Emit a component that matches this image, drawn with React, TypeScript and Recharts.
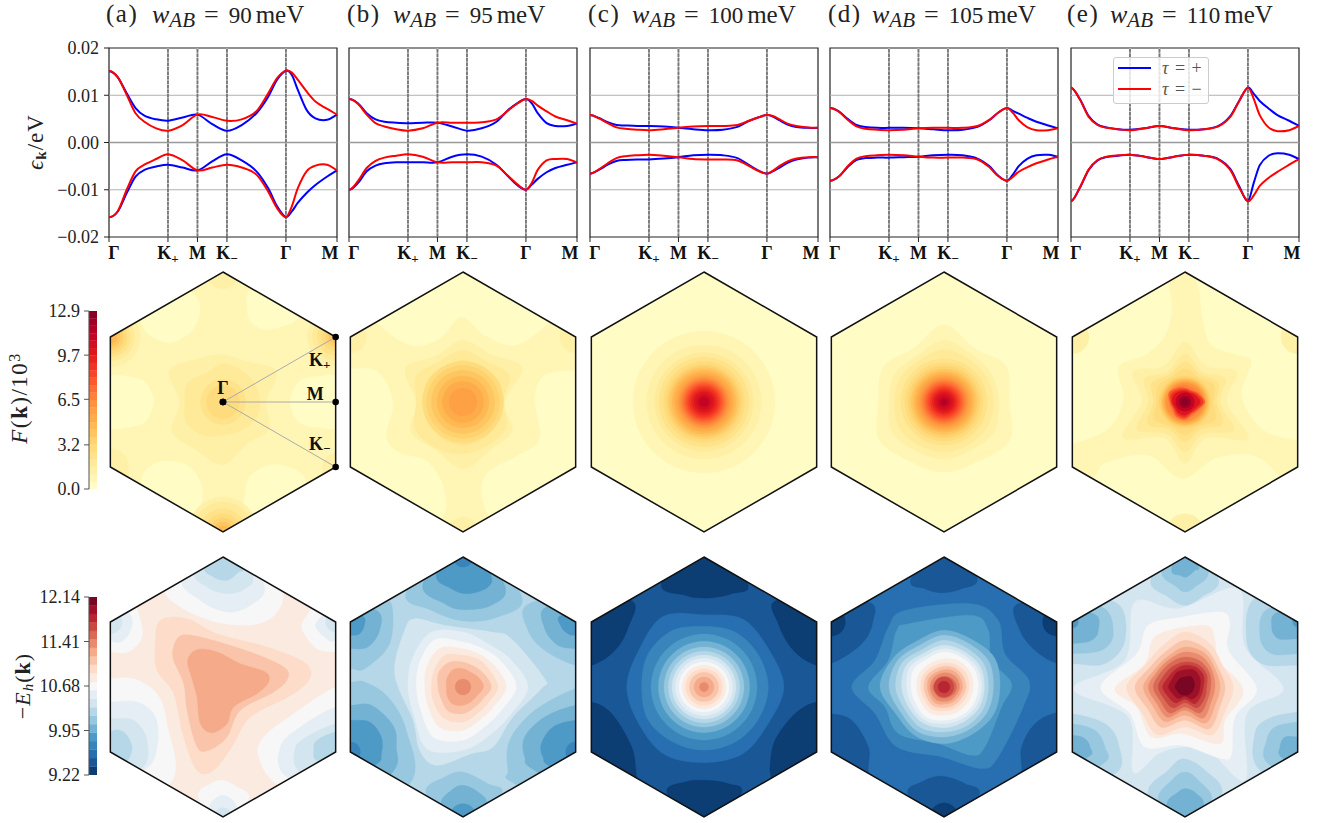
import React from 'react';
import { LineChart, Line, XAxis, YAxis, ReferenceLine, ReferenceArea, ScatterChart, Scatter, BarChart, Bar } from 'recharts';

// ---------- band structure data ----------
const pathX = [0, 0.15, 0.3, 0.45, 0.6, 0.8, 1, 1.25, 1.5, 1.75, 2, 2.25, 2.5, 2.7, 2.85, 3, 3.1, 3.2, 3.35, 3.5, 3.7, 3.866];
const pathTicks = [0, 1, 1.5, 2, 3, 3.866];
const pathLabels = ['Γ', 'K+', 'M', 'K−', 'Γ', 'M'];
const energyTicks = [-0.02, -0.01, 0, 0.01, 0.02];
const energyLabels = ['−0.02', '−0.01', '0.00', '0.01', '0.02'];

const aUpPlus = [.0151, .0138, .0104, .0073, .0057, .0049, .0046, .0053, .0059, .0039, .0025, .0037, .0062, .0097, .0133, .0152, .0143, .0112, .0069, .0051, .0048, .0059];
const aUpMinus = [.0152, .0138, .0101, .0062, .0044, .003, .0025, .0037, .0059, .0054, .0046, .0049, .0066, .0104, .0136, .0152, .0148, .0133, .0108, .0087, .0071, .0059];
const aLowPlus = [-.0158, -.0146, -.0107, -.0072, -.0058, -.0051, -.0047, -.0053, -.0059, -.004, -.0025, -.0038, -.0061, -.0097, -.0135, -.0158, -.0146, -.0128, -.0107, -.009, -.0072, -.0059];
const aLowMinus = [-.0158, -.0145, -.01, -.0061, -.0047, -.0035, -.0025, -.0038, -.0059, -.0053, -.0047, -.0053, -.0068, -.0104, -.0139, -.0158, -.0135, -.0097, -.0061, -.0049, -.0047, -.0059];

const bUpPlus = [.0092, .0083, .0062, .0049, .0044, .0042, .0041, .0042, .0042, .0034, .0025, .003, .0044, .0069, .0083, .0092, .0083, .0062, .0041, .0035, .0035, .004];
const bUpMinus = [.0092, .0082, .0059, .0041, .0034, .0028, .0025, .003, .0042, .0042, .0042, .0043, .0049, .0068, .0082, .0092, .0088, .0078, .0066, .0055, .0047, .004];
const bLowPlus = [-.01, -.0086, -.0061, -.0049, -.0044, -.0042, -.0042, -.0042, -.0042, -.003, -.0025, -.003, -.0047, -.0072, -.009, -.01, -.0089, -.0077, -.0063, -.0054, -.0047, -.0042];
const bLowMinus = [-.01, -.0082, -.0054, -.0039, -.0032, -.0028, -.0025, -.003, -.0042, -.0042, -.0042, -.0042, -.0049, -.0071, -.0088, -.01, -.0085, -.0058, -.0038, -.0035, -.0035, -.0042];

const cUpPlus = [.0058, .0052, .0043, .0037, .0036, .0035, .0035, .0034, .0031, .0028, .0026, .0027, .0033, .0046, .0053, .0058, .0055, .0048, .0038, .0033, .0031, .0031];
const cUpMinus = [.0058, .0051, .0041, .0032, .0029, .0027, .0026, .0028, .0031, .0034, .0035, .0035, .0037, .0046, .0053, .0058, .0056, .005, .004, .0035, .0032, .0031];
const cLowPlus = [-.0066, -.0058, -.0047, -.0039, -.0037, -.0036, -.0036, -.0034, -.0031, -.0027, -.0026, -.0027, -.0033, -.0048, -.0059, -.0066, -.0061, -.0054, -.0043, -.0036, -.0032, -.0031];
const cLowMinus = [-.0066, -.0057, -.0044, -.0033, -.0029, -.0027, -.0026, -.0028, -.0031, -.0035, -.0036, -.0036, -.0038, -.005, -.006, -.0066, -.006, -.0051, -.004, -.0034, -.0031, -.0031];

const dUpPlus = [.0073, .0066, .005, .0037, .0033, .0031, .0031, .0031, .003, .0028, .0026, .0027, .0033, .0047, .0063, .0073, .0067, .0061, .0052, .0044, .0036, .003];
const dUpMinus = [.0073, .0065, .0048, .0034, .0029, .0027, .0026, .0027, .003, .0031, .0031, .0031, .0035, .0048, .0063, .0073, .0063, .0047, .0032, .0026, .0026, .003];
const dLowPlus = [-.0081, -.0072, -.0052, -.0037, -.0033, -.0032, -.0032, -.0031, -.003, -.0027, -.0026, -.0027, -.0034, -.005, -.007, -.0081, -.0068, -.005, -.0034, -.0027, -.0026, -.003];
const dLowMinus = [-.0081, -.0072, -.005, -.0034, -.0029, -.0027, -.0026, -.0027, -.003, -.0032, -.0032, -.0032, -.0036, -.0052, -.0071, -.0081, -.0073, -.0062, -.0052, -.0044, -.0036, -.003];

const eUpPlus = [.0116, .0092, .0056, .0038, .0032, .0028, .0027, .003, .0035, .003, .0027, .0028, .0035, .0056, .0088, .0116, .0103, .0088, .0072, .0058, .0046, .0035];
const eUpMinus = [.0116, .0091, .0054, .0037, .0031, .0028, .0026, .003, .0035, .003, .0026, .0028, .0034, .0054, .0087, .0116, .0092, .0058, .0032, .0024, .0026, .0035];
const eLowPlus = [-.0124, -.0096, -.0058, -.0038, -.0031, -.0028, -.0026, -.003, -.0035, -.003, -.0026, -.0028, -.0035, -.0056, -.0092, -.0124, -.0085, -.0048, -.0028, -.0023, -.0026, -.0035];
const eLowMinus = [-.0124, -.0095, -.0057, -.0037, -.003, -.0027, -.0026, -.003, -.0035, -.003, -.0026, -.0028, -.0036, -.0058, -.0095, -.0124, -.0112, -.0092, -.0075, -.0062, -.0047, -.0035];

// ---------- colour maps ----------
const ylOrRdAnchors = ['#ffffcc', '#ffeda0', '#fed976', '#feb24c', '#fd8d3c', '#fc4e2a', '#e31a1c', '#bd0026', '#800026'];
const rdBuAnchors = ['#053061', '#2166ac', '#4393c3', '#92c5de', '#d1e5f0', '#f7f7f7', '#fddbc7', '#f4a582', '#d6604d', '#b2182b', '#67001f'];
const hexRgb = (h: string) => [1, 3, 5].map((i) => parseInt(h.slice(i, i + 2), 16));
const paletteFrom = (anchors: string[], n: number) =>
  Array.from({ length: n }, (_, i) => {
    const t = ((i + 0.5) / n) * (anchors.length - 1);
    const k = Math.floor(t);
    const a = hexRgb(anchors[k]);
    const b = hexRgb(anchors[Math.min(k + 1, anchors.length - 1)]);
    const c = a.map((v, j) => Math.round(v + (b[j] - v) * (t - k)));
    return `rgb(${c[0]},${c[1]},${c[2]})`;
  });
const yl = paletteFrom(ylOrRdAnchors, 24);
const rb = paletteFrom(rdBuAnchors, 21);

// ---------- contour helpers ----------
// Units: 3 units = 1 px, origin at the hexagon centre, y upwards.
const N = [0, 390], NE = [338, 195], SE = [338, -195], S = [0, -390], SW = [-338, -195], NW = [-338, 195], W = [-338, 0], E = [338, 0];
const hexVerts = [N, NE, SE, S, SW, NW];
type Pt = { x: number; y: number; label?: string };
type Contour = { level: number; pts: Pt[] };
const spot = (level: number, c: number[], r: number | number[]): Contour => {
  const rr = typeof r === 'number' ? Array(12).fill(r) : r;
  return { level, pts: rr.map((v, i) => {
    const a = (i * 2 * Math.PI) / rr.length;
    return { x: c[0] + v * Math.cos(a), y: c[1] + v * Math.sin(a) };
  }) };
};
const ring = (level: number, r: number | number[]) => spot(level, [0, 0], r);
const patch = (level: number, f: number[]): Contour => {
  const pts: Pt[] = [];
  for (let i = 0; i < f.length; i += 2) pts.push({ x: f[i], y: f[i + 1] });
  return { level, pts };
};

// ---------- F(k) contours ----------
const fA = [
  spot(0, W, [130, 120, 90, 80, 80, 80, 80, 80, 80, 80, 90, 120]),
  spot(0, E, [80, 80, 80, 80, 90, 125, 137, 125, 90, 80, 80, 80]),
  spot(0, [-158, 252], [85, 100, 100, 100, 100, 100, 90, 85, 75, 75, 70, 75]),
  spot(0, [152, 280], [90, 100, 100, 100, 100, 90, 80, 80, 70, 60, 60, 75]),
  spot(0, [-148, -258], [85, 80, 80, 80, 90, 100, 100, 100, 100, 100, 100, 95]),
  spot(0, [152, -268], [100, 100, 85, 80, 80, 85, 85, 100, 100, 100, 100, 100]),
  ring(2, [130, 185, 140, 142, 150, 187, 130, 177, 165, 188, 145, 160]),
  ring(3, [110, 110, 110, 115, 100, 120, 115, 125, 115, 100, 100, 110]),
  ring(4, 68), ring(5, 50),
  spot(2, NW, 90), spot(3, NW, 72), spot(4, NW, 60), spot(5, NW, 50), spot(6, NW, 40), spot(7, NW, 30), spot(8, NW, 20),
  spot(2, NE, 85), spot(3, NE, 70), spot(4, NE, 55), spot(5, NE, 42), spot(6, NE, 30), spot(7, NE, 20),
  spot(2, S, 105), spot(3, S, 90), spot(4, S, 70), spot(5, S, 55), spot(6, S, 42), spot(7, S, 30), spot(8, S, 18),
  spot(2, N, 50), spot(2, SW, 55), spot(2, SE, 40),
];
const fB = [
  patch(0, [-250, 230, -155, 170, -70, 190, -5, 255, 65, 200, 155, 170, 250, 230, 350, 350, 0, 450, -350, 350]),
  patch(0, [-338, 100, -255, 90, -210, 0, -230, -100, -195, -150, -105, -180, -55, -270, -75, -360, -255, -390, -400, -300, -400, 100]),
  patch(0, [338, 95, 245, 80, 215, 10, 230, -110, 165, -160, 75, -210, 55, -270, 80, -345, 145, -390, 400, -300, 400, 95]),
  spot(2, NW, 48), spot(2, NE, 48), spot(2, S, 45),
  ring(2, [125, 205, 165, 185, 160, 200, 140, 180, 165, 200, 165, 170]),
  ring(3, [120, 160, 140, 155, 140, 160, 140, 165, 160, 155, 150, 150]),
  ring(4, [115, 125, 120, 125, 120, 125, 115, 120, 125, 130, 125, 120]),
  ring(5, 122), ring(6, 110), ring(7, 95), ring(8, 78), ring(9, 62), ring(10, 42),
];
const fC = [
  ring(1, 213), ring(2, 172), ring(3, 148), ring(4, 135), ring(5, 122), ring(6, 112), ring(7, 104), ring(8, 96), ring(9, 88), ring(10, 80),
  ring(11, 74), ring(12, 68), ring(13, 62), ring(14, 56), ring(15, 50), ring(16, 44), ring(17, 37), ring(18, 30), ring(19, 22), ring(20, 14),
];
const fD = [
  ring(1, [195, 215, 185, 232, 185, 210, 197, 225, 205, 210, 205, 228]),
  ring(2, [165, 165, 165, 185, 160, 170, 165, 180, 170, 172, 165, 175]),
  ring(3, [148, 148, 148, 158, 145, 150, 148, 155, 150, 150, 148, 150]),
  ring(4, 130), ring(5, 118), ring(6, 108), ring(7, 99), ring(8, 91), ring(9, 84), ring(10, 77), ring(11, 71), ring(12, 65),
  ring(13, 59), ring(14, 53), ring(15, 47), ring(16, 41), ring(17, 35), ring(18, 29), ring(19, 22), ring(20, 14), ring(21, 7),
];
const fE = [
  patch(0, [-50, 360, -40, 280, -60, 200, -120, 140, -200, 105, -185, 10, -230, -80, -340, -125, -420, -125, -420, 310, -60, 460]),
  patch(0, [45, 320, 55, 240, 80, 170, 160, 140, 200, 120, 170, 20, 230, -80, 337, -115, 420, -115, 420, 310, 45, 460]),
  patch(0, [-265, -215, -230, -180, -110, -160, -10, -230, 90, -170, 200, -160, 270, -210, 300, -300, 0, -460, -300, -300]),
  spot(2, NW, 50), spot(2, NE, 50), spot(2, S, 55),
  ring(2, [125, 180, 125, 180, 125, 180, 130, 215, 125, 185, 125, 220]),
  ring(3, [105, 140, 105, 145, 105, 140, 110, 165, 110, 150, 110, 170]),
  ring(4, [95, 115, 95, 120, 95, 115, 95, 130, 95, 120, 95, 130]),
  ring(5, [85, 100, 85, 100, 85, 95, 85, 105, 85, 100, 85, 105]),
  ring(6, 78), ring(7, 72), ring(8, 68), ring(9, 64), ring(10, 60), ring(11, 57),
  ring(12, [56, 52, 48, 50, 52, 55, 48, 48, 52, 52, 48, 50]),
  ring(14, [60, 48, 40, 42, 48, 55, 45, 42, 50, 52, 42, 45]),
  ring(16, [54, 44, 36, 38, 42, 48, 42, 38, 44, 46, 38, 42]),
  ring(18, [46, 38, 32, 33, 36, 40, 38, 34, 38, 40, 34, 36]),
  ring(20, 28), ring(22, 18), ring(23, 10),
];

// ---------- -E_h(k) contours ----------
const eA = [
  patch(10, [-173, 280, -68, 210, 52, 185, 142, 205, 180, 275, 120, 350, 0, 480, -120, 350]),
  patch(9, [-123, 330, -68, 260, 12, 225, 82, 245, 122, 310, 0, 480]),
  patch(8, [-86, 350, -48, 300, 12, 280, 67, 295, 87, 340, 0, 480]),
  patch(7, [-56, 365, -28, 330, 12, 320, 47, 345, 57, 360, 0, 480]),
  patch(10, [-338, 105, -283, 105, -243, 150, -253, 220, -273, 240, -400, 250, -400, 105]),
  patch(9, [-338, 140, -298, 140, -273, 185, -283, 225, -320, 250, -400, 200]),
  spot(8, NW, 35),
  patch(10, [339, 105, 282, 115, 237, 175, 252, 215, 282, 240, 400, 250, 400, 105]),
  patch(9, [339, 140, 307, 148, 277, 185, 307, 220, 350, 250, 420, 200]),
  spot(8, NE, 30),
  patch(10, [-338, 25, -268, 25, -198, -20, -168, -110, -158, -290, -400, -400, -400, 25]),
  patch(9, [-338, -45, -258, -45, -203, -90, -198, -180, -238, -250, -400, -300, -400, -45]),
  patch(8, [-338, -95, -268, -100, -228, -160, -245, -245, -400, -280, -400, -95]),
  patch(7, [-338, -135, -298, -135, -273, -180, -290, -225, -330, -240, -400, -200]),
  patch(10, [339, 0, 212, -80, 122, -150, 107, -210, 172, -300, 400, -400, 420, 0]),
  patch(9, [339, -60, 232, -120, 172, -180, 192, -270, 400, -350, 420, -60]),
  patch(8, [339, -110, 250, -150, 215, -190, 235, -260, 400, -350, 420, -110]),
  patch(7, [339, -135, 282, -160, 272, -190, 287, -225, 400, -260, 420, -135]),
  patch(10, [-73, -330, -38, -290, 0, -280, 42, -300, 77, -335, 0, -450]),
  patch(9, [-40, -360, 0, -325, 40, -360, 0, -430]),
  spot(8, S, 28),
  patch(12, [-188, 200, -108, 205, -18, 160, 132, 120, 242, 75, 262, 30, 212, -20, 82, -90, 32, -170, -28, -250, -78, -250, -118, -150, -148, -20, -198, 50, -203, 130]),
  patch(13, [-148, 120, -123, 155, -48, 145, 82, 105, 182, 60, 194, 25, 152, -15, 52, -70, 12, -150, -43, -190, -78, -180, -108, -70, -118, 10, -148, 80]),
  patch(14, [-106, 80, -78, 112, -18, 105, 52, 70, 127, 45, 137, 15, 102, -20, 32, -60, 12, -110, -33, -137, -68, -110, -78, -30, -93, 25]),
];
const eB = [
  patch(6, [-170, 285, -95, 230, 0, 198, 105, 210, 175, 275, 0, 480]),
  patch(5, [-120, 310, -55, 250, 0, 232, 85, 245, 125, 305, 0, 480]),
  patch(4, [-80, 340, -35, 295, 15, 280, 75, 300, 80, 345, 0, 480]),
  spot(3, N, 30),
  patch(6, [-338, 55, -295, 55, -220, 130, -215, 250, -265, 240, -420, 240, -420, 55]),
  patch(5, [-338, 115, -285, 120, -250, 170, -260, 230, -400, 250, -400, 115]),
  patch(4, [-338, 155, -310, 160, -295, 190, -305, 215, -400, 250, -400, 155]),
  patch(6, [198, 250, 195, 170, 245, 110, 338, 65, 420, 65, 420, 280]),
  patch(5, [250, 240, 245, 175, 285, 125, 338, 115, 420, 115, 420, 250]),
  patch(4, [295, 215, 295, 180, 315, 160, 338, 155, 420, 155, 420, 220]),
  patch(6, [-338, 15, -295, 15, -225, -30, -170, -130, -160, -290, -400, -400, -420, 15]),
  patch(5, [-338, -55, -275, -55, -210, -115, -200, -180, -215, -260, -400, -400, -420, -55]),
  patch(4, [-338, -100, -280, -105, -245, -150, -245, -200, -265, -235, -420, -300, -420, -100]),
  spot(3, SW, 30),
  patch(6, [338, -5, 215, -70, 140, -160, 135, -250, 155, -290, 420, -400, 420, -5]),
  patch(5, [338, -55, 245, -90, 185, -150, 185, -210, 215, -250, 420, -350, 420, -55]),
  patch(4, [338, -100, 270, -120, 235, -170, 240, -210, 265, -240, 420, -300, 420, -100]),
  spot(3, SE, 30),
  patch(6, [-110, -320, -55, -270, 0, -255, 75, -290, 115, -320, 0, -450]),
  patch(5, [-65, -355, -35, -310, 0, -295, 45, -315, 70, -355, 0, -450]),
  spot(4, S, 40),
  patch(8, [-145, 205, -55, 185, 85, 165, 145, 145, 245, 25, 235, -5, 150, -90, 90, -180, 25, -200, -80, -235, -130, -190, -150, -100, -205, 40, -175, 170]),
  ring(9, [195, 165, 150, 165, 190, 175, 165, 170, 215, 190, 165, 165]),
  ring(10, [160, 140, 130, 135, 165, 150, 140, 145, 175, 160, 135, 135]),
  ring(11, [130, 115, 110, 115, 135, 125, 115, 120, 140, 130, 110, 110]),
  ring(12, [105, 95, 95, 95, 110, 100, 95, 100, 110, 105, 90, 90]),
  ring(13, [85, 75, 70, 75, 85, 85, 75, 75, 85, 80, 70, 70]),
  ring(14, [62, 55, 50, 55, 60, 55, 50, 55, 60, 55, 50, 50]),
  ring(15, 24),
];
const eC = [
  patch(0, [-127, 312, -57, 275, 8, 267, 83, 280, 130, 312, 0, 480]),
  patch(0, [-110, -320, -57, -285, 3, -280, 73, -290, 111, -320, 0, -460]),
  patch(0, [-220, 260, -227, 180, -267, 110, -337, 65, -420, 65, -420, 260]),
  patch(0, [218, 260, 223, 190, 268, 110, 338, 65, 420, 65, 420, 260]),
  patch(0, [-339, -45, -277, -80, -217, -180, -202, -270, -190, -340, -400, -400, -420, -45]),
  patch(0, [338, -45, 273, -80, 213, -160, 198, -240, 200, -270, 190, -340, 420, -400, 420, -45]),
  ring(2, [240, 225, 235, 217, 245, 225, 232, 225, 235, 227, 232, 222]),
  ring(3, [193, 190, 190, 182, 195, 195, 187, 195, 190, 190, 190, 190]),
  ring(4, 159), ring(5, 137), ring(6, 120), ring(7, 107), ring(8, 96), ring(9, 86), ring(10, 75), ring(11, 66), ring(12, 55), ring(13, 44), ring(14, 30), ring(15, 14),
];
const eD = [
  patch(1, [-99, 325, -57, 295, -7, 283, 53, 295, 98, 330, 0, 480]),
  patch(1, [-107, -325, -67, -285, -7, -268, 63, -290, 105, -325, 0, -460]),
  spot(0, S, 42),
  patch(1, [-227, 255, -214, 195, -247, 130, -337, 72, -420, 72, -420, 255]),
  spot(0, NW, 42),
  patch(1, [223, 250, 228, 170, 273, 110, 338, 72, 420, 72, 420, 250]),
  spot(0, NE, 42),
  patch(1, [-339, -80, -277, -100, -227, -180, -227, -250, -215, -330, -420, -400, -420, -80]),
  patch(1, [338, -77, 273, -110, 233, -180, 233, -250, 220, -330, 420, -400, 420, -77]),
  patch(3, [-117, 230, 83, 250, 163, 200, 183, 100, 255, 20, 238, -60, 163, -210, 113, -245, -7, -210, -142, -180, -207, -80, -277, 0, -207, 80, -167, 180]),
  patch(4, [-107, 190, 83, 215, 133, 170, 143, 80, 203, 10, 173, -60, 123, -180, 83, -205, -17, -170, -137, -140, -177, -60, -227, 0, -167, 80, -142, 170]),
  ring(5, [168, 175, 165, 170, 160, 175, 192, 165, 170, 170, 165, 170]),
  ring(6, [148, 155, 150, 155, 145, 160, 165, 150, 155, 150, 148, 150]),
  ring(7, [133, 138, 135, 140, 130, 145, 145, 135, 140, 135, 135, 135]),
  ring(8, [121, 125, 122, 125, 118, 130, 127, 122, 125, 122, 120, 122]),
  ring(9, [113, 115, 113, 115, 108, 118, 112, 110, 115, 110, 110, 112]),
  ring(10, [103, 105, 103, 105, 98, 105, 99, 98, 105, 100, 100, 102]),
  ring(11, [88, 90, 90, 85, 82, 85, 82, 82, 88, 85, 85, 85]),
  ring(12, [75, 78, 76, 72, 70, 72, 70, 70, 75, 72, 72, 72]),
  ring(13, [66, 66, 66, 62, 60, 62, 60, 60, 65, 62, 62, 62]),
  ring(14, [56, 56, 56, 52, 50, 52, 50, 50, 55, 52, 52, 52]),
  ring(15, [47, 47, 45, 43, 42, 42, 42, 42, 45, 44, 44, 44]),
  ring(16, [38, 36, 34, 32, 32, 32, 34, 32, 34, 34, 34, 36]),
  ring(17, 30), ring(18, 18),
];
const eE = [
  patch(7, [-102, 325, -50, 270, 0, 245, 50, 270, 100, 325, 0, 480]),
  patch(6, [-70, 350, -25, 300, 0, 285, 30, 300, 70, 350, 0, 480]),
  patch(5, [-40, 355, -15, 335, 5, 330, 30, 350, 40, 365, 0, 480]),
  patch(7, [-110, -325, -50, -250, -5, -215, 60, -250, 110, -325, 0, -480]),
  patch(6, [-80, -345, -40, -280, 0, -255, 40, -280, 80, -345, 0, -480]),
  patch(5, [-55, -360, -20, -315, 5, -305, 35, -320, 55, -360, 0, -480]),
  patch(7, [-338, 70, -240, 70, -180, 140, -210, 255, -420, 255, -420, 70]),
  patch(6, [-338, 100, -250, 110, -215, 160, -250, 240, -420, 240, -420, 100]),
  patch(5, [-338, 130, -280, 140, -260, 170, -275, 220, -420, 220, -420, 130]),
  spot(4, NW, 18),
  patch(7, [340, 65, 230, 70, 185, 140, 215, 270, 420, 270, 420, 65]),
  patch(6, [340, 100, 260, 100, 225, 150, 250, 235, 420, 235, 420, 100]),
  patch(5, [340, 145, 280, 145, 260, 180, 280, 225, 420, 225, 420, 145]),
  spot(4, NE, 15),
  patch(7, [-338, -80, -240, -110, -200, -170, -210, -260, -420, -300, -420, -80]),
  patch(6, [-338, -110, -270, -130, -240, -180, -245, -230, -420, -300, -420, -110]),
  patch(5, [-338, -145, -300, -155, -285, -180, -290, -210, -420, -250, -420, -145]),
  patch(7, [340, -75, 250, -95, 210, -140, 225, -250, 420, -350, 420, -75]),
  patch(6, [340, -105, 270, -120, 245, -160, 250, -230, 420, -300, 420, -105]),
  patch(5, [340, -150, 300, -150, 285, -180, 295, -215, 420, -260, 420, -150]),
  patch(9, [-150, 255, -20, 235, 160, 295, 180, 120, 295, -5, 185, -80, 180, -280, 70, -190, -5, -180, -80, -200, -155, -255, -170, -90, -335, -5, -180, 80]),
  patch(10, [-110, 185, -10, 210, 110, 225, 135, 190, 130, 110, 215, -5, 150, -90, 140, -200, 110, -215, -10, -175, -120, -180, -165, -80, -253, 0, -145, 100]),
  patch(11, [-85, 155, 60, 185, 90, 140, 100, 80, 175, -10, 120, -100, 105, -170, -10, -140, -100, -150, -145, -60, -210, -5, -120, 70]),
  ring(12, [145, 130, 150, 165, 140, 135, 175, 150, 165, 120, 165, 140]),
  ring(13, [120, 115, 130, 140, 120, 120, 150, 130, 140, 100, 145, 120]),
  ring(14, [105, 105, 118, 120, 105, 105, 125, 112, 120, 85, 125, 105]),
  ring(15, [90, 95, 105, 105, 95, 95, 110, 98, 105, 70, 108, 90]),
  ring(16, [77, 85, 90, 90, 85, 85, 95, 85, 90, 60, 90, 78]),
  ring(17, [65, 75, 78, 75, 72, 72, 80, 72, 72, 47, 72, 68]),
  ring(18, [55, 65, 68, 65, 60, 58, 67, 58, 55, 37, 58, 55]),
  ring(19, [45, 52, 58, 52, 50, 45, 50, 42, 40, 28, 42, 45]),
  ring(20, [28, 32, 36, 30, 30, 28, 30, 26, 26, 25, 26, 26]),
];

// ---------- annotations, colour bars, titles ----------
const rayEnds = [NE, E, SE];
const annotationLabels: Pt[] = [
  { x: 0, y: 42, label: 'Γ' }, { x: 290, y: 125, label: 'K+' }, { x: 277, y: 24, label: 'M' }, { x: 290, y: -125, label: 'K−' },
];
const fTicks = [0, 3.2, 6.5, 9.7, 12.9];
const ehTicks = [9.22, 9.95, 10.68, 11.41, 12.14];
const titles = ['(a)', '(b)', '(c)', '(d)', '(e)'];
const couplings = ['90', '95', '100', '105', '110'];

const SERIF = '"Liberation Serif", serif';
const axisLefts = [109, 349, 589.5, 830, 1070.5];
const titleLefts = [106, 347, 588, 828, 1067];
const mathLefts = [152, 393, 632, 872, 1110];
const hexCenters = [222.7, 463.3, 704, 944, 1185];
const PAD = 60;
const PLOT_W = 228;

const bandPanels = [
  [aUpPlus, aUpMinus, aLowPlus, aLowMinus],
  [bUpPlus, bUpMinus, bLowPlus, bLowMinus],
  [cUpPlus, cUpMinus, cLowPlus, cLowMinus],
  [dUpPlus, dUpMinus, dLowPlus, dLowMinus],
  [eUpPlus, eUpMinus, eLowPlus, eLowMinus],
];

// Smooth curve for the Line series: cubic Hermite through the data points, flat at the first one.
const smoothCurve = (ctx: any) => {
  let pts: number[][] = [];
  return {
    areaStart() {}, areaEnd() {},
    lineStart() { pts = []; },
    point(x: number, y: number) { pts.push([+x, +y]); },
    lineEnd() {
      const n = pts.length;
      if (!n) return;
      const slope = (i: number) => {
        if (i === 0) return 0;
        if (i === n - 1) return (pts[i][1] - pts[i - 1][1]) / (pts[i][0] - pts[i - 1][0]);
        return (pts[i + 1][1] - pts[i - 1][1]) / (pts[i + 1][0] - pts[i - 1][0]);
      };
      ctx.moveTo(pts[0][0], pts[0][1]);
      for (let i = 0; i < n - 1; i++) {
        const h = (pts[i + 1][0] - pts[i][0]) / 3;
        ctx.bezierCurveTo(pts[i][0] + h, pts[i][1] + h * slope(i), pts[i + 1][0] - h, pts[i + 1][1] - h * slope(i + 1), pts[i + 1][0], pts[i + 1][1]);
      }
    },
  };
};

const PathTick = (p: any) => {
  const v = p.payload.value;
  const idx = pathTicks.indexOf(v);
  const lab = pathLabels[idx];
  const shift = idx === 0 ? 5 : idx === pathTicks.length - 1 ? -7 : 0;
  return (
    <text x={p.x + shift} y={p.y + 15} textAnchor="middle" fontFamily={SERIF} fontWeight={700} fontSize={18} fill="#111">
      <tspan>{lab[0]}</tspan>
      {lab.length > 1 ? <tspan dy={4} fontSize={13}>{lab[1]}</tspan> : null}
    </text>
  );
};

function BandPanel({ index }: { index: number }) {
  const [up, um, lp, lm] = bandPanels[index];
  const rows = pathX.map((x, i) => ({ x, up: up[i], um: um[i], lp: lp[i], lm: lm[i] }));
  const showY = index === 0;
  return (
    <div style={{ position: 'absolute', left: axisLefts[index] - PAD, top: 38.3 }}>
      <LineChart width={PAD + PLOT_W + 16} height={229} data={rows} margin={{ top: 10, right: 16, bottom: 0, left: showY ? 0 : PAD }}>
        <ReferenceArea x1={0} x2={3.866} y1={-0.02} y2={0.02} fill="none" stroke="#222" strokeWidth={1.2} />
        {[-0.01, 0.01].map((v) => <ReferenceLine key={v} y={v} stroke="#b0b0b0" strokeWidth={1} />)}
        <ReferenceLine y={0} stroke="#999" strokeWidth={1.4} />
        {pathTicks.slice(1, 5).map((v) => <ReferenceLine key={'s' + v} x={v} stroke="#bbb" strokeWidth={1.5} />)}
        {pathTicks.slice(1, 5).map((v) => <ReferenceLine key={'d' + v} x={v} stroke="#777" strokeWidth={1.8} strokeDasharray="3.5 1" />)}
        <XAxis type="number" dataKey="x" domain={[0, 3.866]} ticks={pathTicks} interval={0} height={30} tick={PathTick} tickSize={5} stroke="#222" axisLine={false} />
        <YAxis type="number" domain={[-0.02, 0.02]} ticks={energyTicks} interval={0} hide={!showY} width={PAD} tickSize={5} tickMargin={5} stroke="#222" axisLine={false}
          tickFormatter={(v: number) => energyLabels[energyTicks.indexOf(v)]}
          tick={{ fontFamily: SERIF, fontSize: 18, fill: '#222' }} />
        <Line type={smoothCurve as any} dataKey="up" stroke="#0000ff" strokeWidth={2} dot={false} isAnimationActive={false} name="τ = +" />
        <Line type={smoothCurve as any} dataKey="lp" stroke="#0000ff" strokeWidth={2} dot={false} isAnimationActive={false} legendType="none" />
        <Line type={smoothCurve as any} dataKey="um" stroke="#ff0000" strokeWidth={2} dot={false} isAnimationActive={false} name="τ = −" />
        <Line type={smoothCurve as any} dataKey="lm" stroke="#ff0000" strokeWidth={2} dot={false} isAnimationActive={false} legendType="none" />
      </LineChart>
    </div>
  );
}

const closedSpline = (p: { x: number; y: number }[]) => {
  const n = p.length;
  let d = `M${p[0].x},${p[0].y}`;
  for (let i = 0; i < n; i++) {
    const p0 = p[(i - 1 + n) % n], p1 = p[i], p2 = p[(i + 1) % n], p3 = p[(i + 2) % n];
    d += `C${p1.x + (p2.x - p0.x) / 6},${p1.y + (p2.y - p0.y) / 6} ${p2.x - (p3.x - p1.x) / 6},${p2.y - (p3.y - p1.y) / 6} ${p2.x},${p2.y}`;
  }
  return d + 'Z';
};
const noShape = () => <g />;
const polyPoints = (pts: { x: number; y: number }[]) => pts.map((q) => `${q.x},${q.y}`).join(' ');
const hexData: Pt[] = hexVerts.map((v) => ({ x: v[0], y: v[1] }));

const MAP = 360;
const DOM = 540;

function HexMap({ id, cx, cy, base, palette, contours, annotate }: { id: string; cx: number; cy: number; base: string; palette: string[]; contours: Contour[]; annotate?: boolean }) {
  return (
    <div style={{ position: 'absolute', left: cx - MAP / 2, top: cy - MAP / 2 }}>
      <ScatterChart width={MAP} height={MAP} margin={{ top: 0, right: 0, bottom: 0, left: 0 }}>
        <XAxis type="number" dataKey="x" domain={[-DOM, DOM]} hide />
        <YAxis type="number" dataKey="y" domain={[-DOM, DOM]} hide width={0} />
        <Scatter data={hexData} shape={noShape} isAnimationActive={false}
          line={(p: any) => (
            <g>
              <defs><clipPath id={id}><polygon points={polyPoints(p.points)} /></clipPath></defs>
              <polygon points={polyPoints(p.points)} fill={base} />
            </g>
          )} />
        {contours.map((c, i) => (
          <Scatter key={i} data={c.pts} shape={noShape} isAnimationActive={false}
            line={(p: any) => <path d={closedSpline(p.points)} fill={palette[c.level]} stroke={palette[c.level]} strokeWidth={0.3} clipPath={`url(#${id})`} />} />
        ))}
        <Scatter data={hexData} shape={noShape} isAnimationActive={false}
          line={(p: any) => <polygon points={polyPoints(p.points)} fill="none" stroke="#111" strokeWidth={1.5} strokeLinejoin="miter" />} />
        {annotate ? rayEnds.map((v, i) => (
          <Scatter key={'ray' + i} data={[{ x: 0, y: 0 }, { x: v[0], y: v[1] }]} isAnimationActive={false}
            shape={(p: any) => <circle cx={p.cx} cy={p.cy} r={3.3} fill="#000" />}
            line={{ stroke: '#aaa', strokeWidth: 1 }} />
        )) : null}
        {annotate ? (
          <Scatter data={annotationLabels} isAnimationActive={false}
            shape={(p: any) => {
              const lab: string = p.payload.label;
              return (
                <text x={p.cx} y={p.cy} textAnchor="middle" dominantBaseline="central" fontFamily={SERIF} fontWeight={700} fontSize={18} fill="#111">
                  <tspan>{lab[0]}</tspan>
                  {lab.length > 1 ? <tspan dy={4} fontSize={13}>{lab[1]}</tspan> : null}
                </text>
              );
            }} />
        ) : null}
      </ScatterChart>
    </div>
  );
}

function ColorBar({ top, min, max, ticks, palette }: { top: number; min: number; max: number; ticks: number[]; palette: string[] }) {
  const step = (max - min) / palette.length;
  const row: Record<string, number | string> = { c: 'bar', base: min };
  palette.forEach((_, i) => { row['l' + i] = step; });
  return (
    <div style={{ position: 'absolute', left: 29, top: top - 10 }}>
      <BarChart width={68} height={198} data={[row]} margin={{ top: 10, right: 0, bottom: 10, left: 0 }} barCategoryGap={0} barGap={0}>
        <XAxis type="category" dataKey="c" hide />
        <YAxis type="number" domain={[min, max]} ticks={ticks} interval={0} allowDataOverflow width={60} tickSize={5} tickMargin={4} stroke="#555"
          tick={{ fontFamily: SERIF, fontSize: 18, fill: '#222' }}
          tickFormatter={(v: number) => (max > 12.5 && max < 13 ? v.toFixed(1) : v.toFixed(2))} />
        <Bar dataKey="base" stackId="a" fill="none" isAnimationActive={false} />
        {palette.map((col, i) => <Bar key={i} dataKey={'l' + i} stackId="a" fill={col} stroke={col} strokeWidth={0.3} isAnimationActive={false} />)}
      </BarChart>
    </div>
  );
}

const rotated = (x: number, y: number, size: number, spacing: number): React.CSSProperties => ({
  position: 'absolute', left: x, top: y, transform: 'translate(-50%,-50%) rotate(-90deg)', whiteSpace: 'nowrap', fontFamily: SERIF, fontSize: size, letterSpacing: spacing, color: '#222',
});

const fPanels = [fA, fB, fC, fD, fE];
const ePanels = [eA, eB, eC, eD, eE];
const fBase = [1, 1, 0, 0, 1];
const eBase = [11, 7, 1, 2, 8];

export default function App() {
  return (
    <div style={{ position: 'absolute', left: 0, top: 0, width: 1322, height: 823, overflow: 'hidden', background: '#fff' }}>
      {titles.map((t, i) => (
        <React.Fragment key={t}>
          <div style={{ position: 'absolute', left: titleLefts[i], top: 0, fontFamily: SERIF, fontSize: 25, letterSpacing: 1.5, color: '#222', whiteSpace: 'nowrap' }}>{t}</div>
          <div style={{ position: 'absolute', left: mathLefts[i], top: 0, fontFamily: SERIF, fontSize: 23, color: '#222', whiteSpace: 'nowrap' }}>
            <i style={{ fontSize: 26 }}>w</i><sub style={{ fontSize: 21, fontStyle: 'italic', verticalAlign: -4, lineHeight: 0 }}>AB</sub>
            <span style={{ margin: '0 10px 0 9px', fontSize: 26 }}>=</span>
            {couplings[i]}
            <span style={{ marginLeft: 4, fontSize: 25 }}>meV</span>
          </div>
        </React.Fragment>
      ))}
      <div style={rotated(36, 142, 23, 1)}><i>ϵ</i><sub style={{ fontSize: 15, fontWeight: 700, verticalAlign: -3, lineHeight: 0 }}>k</sub>/eV</div>
      <div style={rotated(20, 398, 23, 1.5)}><i>F</i>(<b>k</b>)/10<sup style={{ fontSize: 16, verticalAlign: 7, lineHeight: 0 }}>3</sup></div>
      <div style={rotated(23, 686, 22, 1)}>−<i>E</i><sub style={{ fontSize: 15, fontStyle: 'italic', verticalAlign: -3, lineHeight: 0 }}>h</sub>(<b>k</b>)</div>

      {titles.map((_, i) => <BandPanel key={i} index={i} />)}

      <div style={{ position: 'absolute', left: 1113, top: 57, width: 96, height: 47, boxSizing: 'border-box', background: 'rgba(255,255,255,0.8)', border: '1.2px solid #ccc', borderRadius: 3 }} />
      {[{ y: 68, c: '#0000ff', t: '+' }, { y: 89, c: '#ff0000', t: '−' }].map((l) => (
        <React.Fragment key={l.t}>
          <div style={{ position: 'absolute', left: 1118, top: l.y - 1, width: 33, height: 2, background: l.c }} />
          <div style={{ position: 'absolute', left: 1162, top: l.y - 10, fontFamily: SERIF, fontSize: 18, lineHeight: '20px', wordSpacing: 2, color: '#555', whiteSpace: 'nowrap' }}><i>τ</i> = {l.t}</div>
        </React.Fragment>
      ))}

      <ColorBar top={311} min={0} max={12.9} ticks={fTicks} palette={yl} />
      <ColorBar top={597} min={9.22} max={12.14} ticks={ehTicks} palette={rb} />

      {fPanels.map((c, i) => <HexMap key={'f' + i} id={'hf' + i} cx={hexCenters[i]} cy={401.7} base={yl[fBase[i]]} palette={yl} contours={c} annotate={i === 0} />)}
      {ePanels.map((c, i) => <HexMap key={'e' + i} id={'he' + i} cx={hexCenters[i]} cy={686.7} base={rb[eBase[i]]} palette={rb} contours={c} />)}
    </div>
  );
}
